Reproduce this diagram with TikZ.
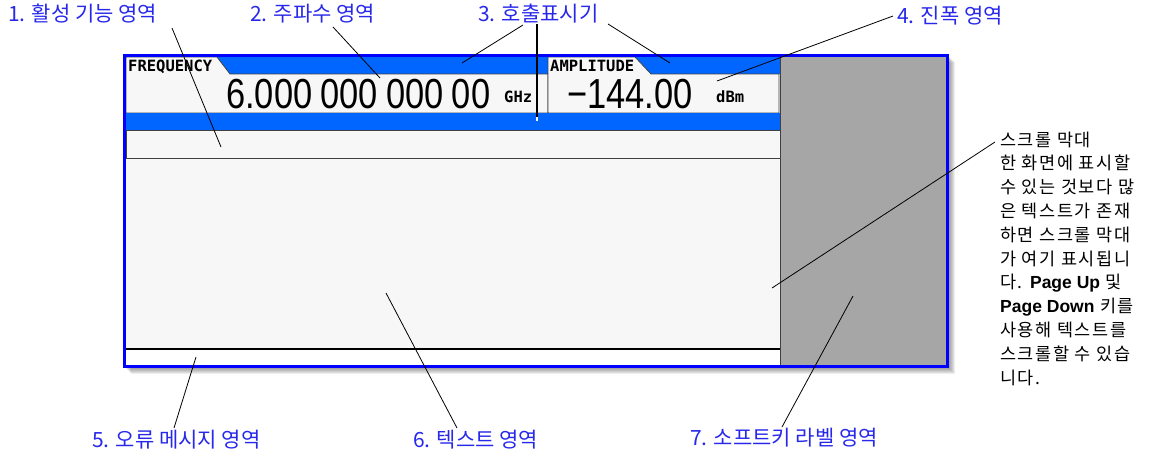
\documentclass[tikz,border=0pt]{standalone}
\usepackage{fontspec}
\setmainfont{Liberation Sans}
\newfontfamily\kr{Noto Sans CJK KR}
\newfontfamily\krsp{Noto Sans CJK KR}[LetterSpace=9]
\newfontfamily\pix{DejaVu Sans Mono}
\definecolor{labelblue}{RGB}{40,40,235}
\definecolor{bandblue}{RGB}{0,102,255}
\definecolor{frameblue}{RGB}{0,0,255}
\definecolor{screenbg}{RGB}{247,247,247}
\definecolor{softgray}{RGB}{166,166,166}
\definecolor{edgegray}{RGB}{64,64,64}
\begin{document}
\begin{tikzpicture}[x=1pt,y=-1pt,
  lbl/.style={anchor=west, inner sep=0, text=labelblue, font=\kr\fontsize{21}{24}\selectfont},
  para/.style={anchor=base west, inner sep=0, font=\krsp\fontsize{17.5}{23.8}\selectfont},
  pixtxt/.style={anchor=base west, inner sep=0, font=\pix\bfseries\fontsize{15.5}{15}\selectfont},
  bignum/.style={anchor=base west, inner sep=0, font=\fontsize{42}{42}\selectfont},
  conn/.style={draw=black, line width=0.8},
  fieldbox/.style={fill=screenbg, draw=edgegray, line width=0.8}]
\useasboundingbox (0,0) rectangle (1158,455);
% shadow
\foreach \i in {1,...,7}{
  \fill[black, opacity=0.07] (124+\i,55+\i) rectangle (948+\i,367+\i);
}
% screen
\fill[screenbg] (124,55) rectangle (948,367);
\fill[bandblue] (125,56) rectangle (780,74);
\filldraw[fieldbox] (126,57) -- (217,57) -- (230,74) -- (548,74) -- (548,113) -- (126,113) -- cycle;
\filldraw[fieldbox] (548,57) -- (635,57) -- (651,74) -- (779,74) -- (779,113) -- (548,113) -- cycle;
\fill[bandblue] (125,113) rectangle (780,130);
\filldraw[fieldbox] (126,130) rectangle (780,158.5);
\draw[line width=2] (125,349) -- (780,349);
\fill[white] (125,350) rectangle (780,366);
\fill[softgray] (780,56) rectangle (947,366);
\draw[edgegray, line width=1] (780,56) -- (780,366);
\draw[frameblue, line width=2.5] (124.5,55.5) rectangle (947.5,366.5);
% screen texts
\node[pixtxt] (freqtab) at (128,71) {FREQUENCY};
\node[pixtxt] (amptab) at (550,71) {AMPLITUDE};
\node[bignum] (freqval) at (226,108) {\scalebox{0.82}[1]{6.000\hspace{10pt}000\hspace{10pt}000\hspace{10pt}00}};
\node[bignum] (ampval) at (567,108) {\scalebox{0.82}[1]{−144.00}};
\node[pixtxt] (ghz) at (504,102) {GHz};
\node[pixtxt] (dbm) at (716,102) {dBm};
% labels
\node[lbl] (l1) at (8,14) {1. 활성 기능 영역};
\node[lbl] (l2) at (250,14) {2. 주파수 영역};
\node[lbl] (l3) at (478,14) {3. 호출표시기};
\node[lbl] (l4) at (897,16) {4. 진폭 영역};
\node[lbl] (l5) at (92,440) {5. 오류 메시지 영역};
\node[lbl] (l6) at (413,440) {6. 텍스트 영역};
\node[lbl] (l7) at (690,438) {7. 소프트키 라벨 영역};
% scroll bar paragraph
\node[para] (p1) at (1000,146) {스크롤 막대};
\node[para] (p2) at (1000,169.8) {한 화면에 표시할};
\node[para] (p3) at (1000,193.6) {수 있는 것보다 많};
\node[para] (p4) at (1000,217.4) {은 텍스트가 존재};
\node[para] (p5) at (1000,241.2) {하면 스크롤 막대};
\node[para] (p6) at (1000,265) {가 여기 표시됩니};
\node[para] (p7) at (1000,288.8) {다. {\rmfamily\bfseries Page Up} 및};
\node[para] (p8) at (1000,312.6) {{\rmfamily\bfseries Page Down} 키를};
\node[para] (p9) at (1000,336.4) {사용해 텍스트를};
\node[para] (p10) at (1000,360.2) {스크롤할 수 있습};
\node[para] (p11) at (1000,384) {니다.};
% connector end points
\coordinate (c1s) at (172,28);  \coordinate (c1e) at (221,147);
\coordinate (c2s) at (333,27);  \coordinate (c2e) at (380,78);
\coordinate (c3as) at (523,25); \coordinate (c3ae) at (462,63);
\coordinate (c3bs) at (608,24); \coordinate (c3be) at (670,63);
\coordinate (c3vs) at (537,24); \coordinate (c3ve) at (537,117);
\coordinate (c4s) at (893,16);  \coordinate (c4e) at (717,81);
\coordinate (c5s) at (174,428); \coordinate (c5e) at (196,357);
\coordinate (c6s) at (457,428); \coordinate (c6e) at (386,293);
\coordinate (c7s) at (782,427); \coordinate (c7e) at (853,296);
\coordinate (c8s) at (995,142); \coordinate (c8e) at (772,288);
\draw[conn] (c1s) -- (c1e);
\draw[conn] (c2s) -- (c2e);
\draw[conn] (c3as) -- (c3ae);
\draw[conn] (c3bs) -- (c3be);
\draw[line width=2.5] (c3vs) -- (c3ve);
\fill[white] (535.75,117) rectangle (538.25,121);
\draw[conn] (c4s) -- (c4e);
\draw[conn] (c5s) -- (c5e);
\draw[conn] (c6s) -- (c6e);
\draw[conn] (c7s) -- (c7e);
\draw[conn] (c8s) -- (c8e);
\end{tikzpicture}
\end{document}
